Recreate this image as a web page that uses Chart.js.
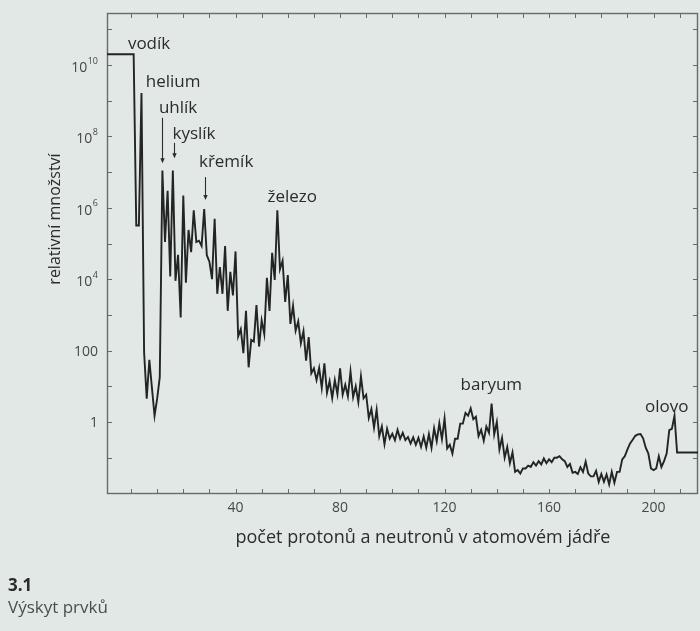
<!DOCTYPE html>
<html lang="cs">
<head>
<meta charset="utf-8">
<title>Výskyt prvků</title>
<script src="https://cdn.jsdelivr.net/npm/chart.js@4.4.1/dist/chart.umd.min.js"></script>
<style>
  html, body { margin: 0; padding: 0; background: #e2e8e5; }
  #wrap { position: relative; width: 700px; height: 631px; overflow: hidden; }
  #chart { position: absolute; left: 0; top: 0; }
  .cap { position: absolute; left: 8px; font-family: "Open Sans", sans-serif; font-size: 17px; line-height: 17px; white-space: nowrap; }
  #capNum { top: 576px; font-weight: 700; color: #2a2d2c; }
  #capText { top: 598px; color: #4a4f4d; }
</style>
</head>
<body>
<div id="wrap">
  <canvas id="chart" width="700" height="631"></canvas>
  <div class="cap" id="capNum">3.1</div>
  <div class="cap" id="capText">Výskyt prvků</div>
</div>
<script>
// Mass number A (protons + neutrons) of the nuclei, 1 … 209
const massNumbers = Array.from({ length: 209 }, (_, i) => i + 1);

// Relative abundance for each mass number (silicon ≈ 10^6)
const abundance = [
  2.0e10, 3.2e5, 3.2e5, 1.65e9, 90, 4.5, 55, 9, 1.5, 4.5,            // 1–10
  18, 1.1e7, 1.1e5, 3.0e6, 1.2e4, 1.1e7, 9.0e3, 4.8e4, 850, 2.2e6,    // 11–20
  8.0e3, 2.4e5, 5.7e4, 8.5e5, 1.1e5, 1.2e5, 8.5e4, 9.2e5, 4.7e4, 3.1e4, // 21–30
  1.0e4, 4.9e5, 3.9e3, 2.2e4, 3.9e3, 8.5e4, 1.3e3, 1.6e4, 3.5e3, 6.0e4, // 31–40
  250, 400, 85, 1.3e3, 34, 200, 180, 1.9e3, 130, 700,                 // 41–50
  290, 1.1e4, 1.3e3, 5.5e4, 9.5e3, 8.5e5, 1.9e4, 3.3e4, 2.3e3, 1.3e4, // 51–60
  560, 1.8e3, 360, 660, 160, 350, 52, 240, 23, 32,                    // 61–70
  15, 33, 9, 44, 6.6, 14, 4.7, 15, 6, 32,                             // 71–80
  5.8, 11, 5.2, 26, 5, 10, 3.6, 19, 4.6, 5.8,                         // 81–90
  1.3, 2.3, 0.7, 2.2, 0.4, 0.75, 0.24, 0.65, 0.34, 0.47,              // 91–100
  0.31, 0.6, 0.34, 0.5, 0.31, 0.38, 0.25, 0.37, 0.23, 0.36,           // 101–110
  0.2, 0.39, 0.19, 0.46, 0.19, 0.67, 0.29, 0.92, 0.33, 1.25,          // 111–120
  0.18, 0.23, 0.13, 0.34, 0.34, 0.9, 0.9, 1.8, 1.5, 2.4,              // 121–130
  1.2, 1.4, 0.4, 0.6, 0.3, 0.75, 0.5, 3.3, 0.45, 1.0,                 // 131–140
  0.17, 0.36, 0.1, 0.2, 0.07, 0.14, 0.04, 0.045, 0.036, 0.05,         // 141–150
  0.05, 0.06, 0.055, 0.075, 0.06, 0.08, 0.065, 0.095, 0.07, 0.09,     // 151–160
  0.075, 0.1, 0.1, 0.11, 0.09, 0.08, 0.055, 0.067, 0.038, 0.04,       // 161–170
  0.035, 0.054, 0.04, 0.078, 0.036, 0.03, 0.03, 0.043, 0.021, 0.035,  // 171–180
  0.021, 0.034, 0.018, 0.04, 0.02, 0.04, 0.04, 0.09, 0.11, 0.17,      // 181–190
  0.25, 0.32, 0.41, 0.45, 0.46, 0.35, 0.19, 0.13, 0.05, 0.045,        // 191–200
  0.05, 0.11, 0.055, 0.08, 0.13, 0.59, 0.64, 1.5, 0.14                // 201–209
];

// Axis ticks and their labels
const xTickValues = [0, 10, 20, 30, 40, 50, 60, 70, 80, 90, 100, 110, 120, 130, 140, 150, 160, 170, 180, 190, 200, 210];
const xTickLabels = ['40', '80', '120', '160', '200'];
const yDecades = [-2, -1, 0, 1, 2, 3, 4, 5, 6, 7, 8, 9, 10, 11];
const yTickLabels = ['1', '100', '10^4', '10^6', '10^8', '10^10'];

// Element names written next to their peaks: text, A, log10 of height
const elementNames = ['vodík', 'helium', 'uhlík', 'kyslík', 'křemík', 'železo', 'baryum', 'olovo'];
const namePosA     = [6.9, 16.1, 18.0, 24.1, 36.4, 61.7, 137.9, 205.0];
const namePosLog   = [10.59, 9.52, 8.80, 8.07, 7.28, 6.30, 1.04, 0.42];

// Pointer arrows above the carbon, oxygen and silicon peaks
const arrowA      = [12, 16.3, 28.2];
const arrowTopLog = [8.52, 7.82, 6.86];
const arrowTipLog = [7.25, 7.39, 6.22];

const X_MIN = -9.2, X_MAX = 217;
const Y_MIN = Math.pow(10, -2.017), Y_MAX = Math.pow(10, 11.457);

const FONT = '"Open Sans", "Noto Sans", sans-serif';
const INK = '#2a2d2c';
const AXIS_INK = '#444947';
const FRAME = '#666b6f';

const points = massNumbers.map((A, i) => ({ x: A, y: abundance[i] }));
// hydrogen level runs back to the left frame, bismuth level out to the right frame
points.unshift({ x: X_MIN, y: abundance[0] });
points.push({ x: X_MAX, y: abundance[abundance.length - 1] });

function supLabel(ctx, text, xRight, yMid) {
  const parts = text.split('^');
  ctx.textBaseline = 'middle';
  ctx.textAlign = 'right';
  if (parts.length === 1) {
    ctx.font = '14px ' + FONT;
    ctx.fillText(parts[0], xRight, yMid + 1);
    return;
  }
  ctx.font = '9px ' + FONT;
  const expW = ctx.measureText(parts[1]).width;
  ctx.fillText(parts[1], xRight, yMid - 4);
  ctx.font = '14px ' + FONT;
  ctx.fillText(parts[0], xRight - expW - 0.5, yMid + 3);
}

const frameAndText = {
  id: 'frameAndText',
  beforeDatasetsDraw(chart) {
    const { ctx, chartArea: a, scales: { x, y } } = chart;
    ctx.save();
    // frame
    ctx.strokeStyle = FRAME;
    ctx.lineWidth = 1.4;
    ctx.strokeRect(a.left + 0.5, a.top + 0.5, a.right - a.left - 1, a.bottom - a.top - 1);
    // inward ticks on all four sides
    ctx.lineWidth = 1;
    ctx.beginPath();
    xTickValues.forEach(v => {
      const px = Math.round(x.getPixelForValue(v)) + 0.5;
      ctx.moveTo(px, a.bottom); ctx.lineTo(px, a.bottom - 5);
      ctx.moveTo(px, a.top); ctx.lineTo(px, a.top + 5);
    });
    yDecades.forEach(d => {
      const py = Math.round(y.getPixelForValue(Math.pow(10, d))) + 0.5;
      ctx.moveTo(a.left, py); ctx.lineTo(a.left + 5, py);
      ctx.moveTo(a.right, py); ctx.lineTo(a.right - 5, py);
    });
    ctx.stroke();

    // tick labels
    ctx.fillStyle = AXIS_INK;
    ctx.font = '14px ' + FONT;
    ctx.textAlign = 'center';
    ctx.textBaseline = 'middle';
    xTickLabels.forEach(t => {
      ctx.fillText(t, x.getPixelForValue(Number(t)), a.bottom + 14);
    });
    yTickLabels.forEach((t, i) => {
      supLabel(ctx, t, a.left - 9, y.getPixelForValue(Math.pow(10, 2 * i)));
    });

    // axis titles
    ctx.fillStyle = INK;
    ctx.font = '18px ' + FONT;
    ctx.textAlign = 'center';
    ctx.textBaseline = 'middle';
    ctx.fillText('počet protonů a neutronů v atomovém jádře', 423, 538);
    ctx.save();
    ctx.translate(55, 219);
    ctx.rotate(-Math.PI / 2);
    ctx.font = '16px ' + FONT;
    ctx.fillText('relativní množství', 0, 0);
    ctx.restore();
    ctx.restore();
  },
  afterDatasetsDraw(chart) {
    const { ctx, scales: { x, y } } = chart;
    ctx.save();
    ctx.fillStyle = INK;
    ctx.strokeStyle = INK;
    ctx.font = '17px ' + FONT;
    ctx.textAlign = 'center';
    ctx.textBaseline = 'middle';
    elementNames.forEach((name, i) => {
      ctx.fillText(name, x.getPixelForValue(namePosA[i]), y.getPixelForValue(Math.pow(10, namePosLog[i])));
    });
    ctx.lineWidth = 1.1;
    arrowA.forEach((A, i) => {
      const px = Math.round(x.getPixelForValue(A)) + 0.5;
      const y0 = y.getPixelForValue(Math.pow(10, arrowTopLog[i]));
      const y1 = y.getPixelForValue(Math.pow(10, arrowTipLog[i]));
      ctx.beginPath();
      ctx.moveTo(px, y0); ctx.lineTo(px, y1 - 4);
      ctx.stroke();
      ctx.beginPath();
      ctx.moveTo(px - 2.2, y1 - 5); ctx.lineTo(px + 2.2, y1 - 5); ctx.lineTo(px, y1);
      ctx.closePath();
      ctx.fill();
    });
    ctx.restore();
  }
};

function draw() {
  new Chart(document.getElementById('chart'), {
    type: 'line',
    data: {
      datasets: [{
        data: points,
        borderColor: '#232524',
        borderWidth: 1.9,
        pointRadius: 0,
        tension: 0,
        fill: false
      }]
    },
    options: {
      responsive: false,
      animation: false,
      devicePixelRatio: 1,
      layout: { padding: { top: 13, right: 2, left: 0, bottom: 0 } },
      plugins: { legend: { display: false }, tooltip: { enabled: false } },
      scales: {
        x: {
          type: 'linear', min: X_MIN, max: X_MAX,
          grid: { display: false, drawTicks: false },
          border: { display: false },
          ticks: { display: false },
          afterFit(s) { s.height = 137; }
        },
        y: {
          type: 'logarithmic', min: Y_MIN, max: Y_MAX,
          grid: { display: false, drawTicks: false },
          border: { display: false },
          ticks: { display: false },
          afterFit(s) { s.width = 107; }
        }
      }
    },
    plugins: [frameAndText]
  });
}

Promise.all([
  document.fonts.load('17px "Open Sans"'),
  document.fonts.load('bold 17px "Open Sans"')
]).then(draw, draw);
</script>
</body>
</html>
